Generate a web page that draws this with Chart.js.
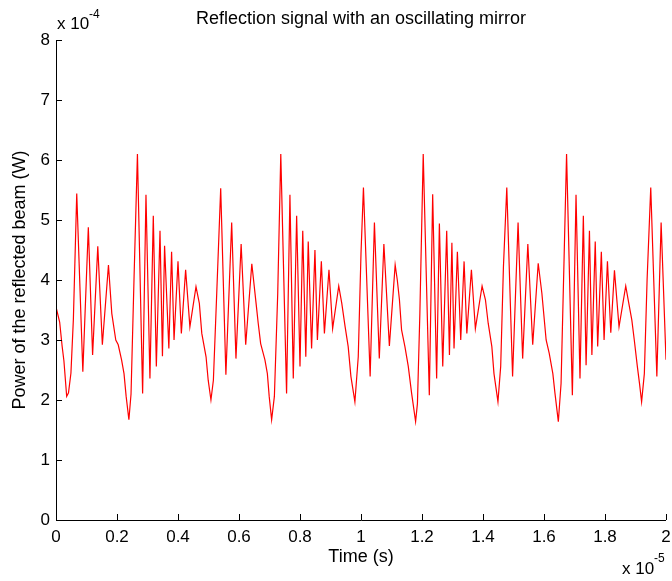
<!DOCTYPE html>
<html lang="en">
<head>
  <meta charset="UTF-8">
  <title>Reflection signal with an oscillating mirror</title>
  <script src="https://cdn.jsdelivr.net/npm/chart.js"></script>
  <style>
    html, body { margin: 0; padding: 0; background: #fff; }
    #wrap { width: 672px; height: 581px; }
  </style>
</head>
<body>
  <div id="wrap"><canvas id="signalChart" width="672" height="581"></canvas></div>

  <script>
    // time in units of 1e-5 s, power in units of 1e-4 W
    const time = [
      0.000, 0.012, 0.020, 0.026, 0.035, 0.041, 0.049, 0.057, 0.068, 0.088,
      0.106, 0.120, 0.137, 0.152, 0.172, 0.183, 0.196, 0.204, 0.215, 0.223,
      0.230, 0.239, 0.246, 0.256, 0.267, 0.284, 0.295, 0.308, 0.319, 0.329,
      0.341, 0.349, 0.356, 0.370, 0.379, 0.387, 0.400, 0.411, 0.425, 0.439,
      0.459, 0.470, 0.478, 0.492, 0.499, 0.508, 0.516, 0.527, 0.540, 0.557,
      0.576, 0.590, 0.607, 0.622, 0.642, 0.656, 0.663, 0.671, 0.685, 0.693,
      0.699, 0.707, 0.716, 0.727, 0.737, 0.756, 0.767, 0.778, 0.789, 0.800,
      0.809, 0.819, 0.827, 0.838, 0.849, 0.857, 0.870, 0.880, 0.895, 0.907,
      0.927, 0.937, 0.948, 0.958, 0.967, 0.980, 0.991, 1.000, 1.008, 1.030,
      1.044, 1.060, 1.075, 1.093, 1.112, 1.119, 1.126, 1.133, 1.144, 1.155,
      1.166, 1.179, 1.185, 1.193, 1.204, 1.224, 1.235, 1.248, 1.257, 1.268,
      1.281, 1.290, 1.298, 1.305, 1.316, 1.327, 1.338, 1.347, 1.362, 1.375,
      1.397, 1.408, 1.417, 1.429, 1.436, 1.449, 1.458, 1.467, 1.478, 1.497,
      1.515, 1.530, 1.547, 1.563, 1.581, 1.593, 1.607, 1.617, 1.629, 1.636,
      1.647, 1.656, 1.666, 1.674, 1.693, 1.705, 1.718, 1.729, 1.738, 1.749,
      1.757, 1.768, 1.776, 1.788, 1.797, 1.808, 1.819, 1.831, 1.846, 1.868,
      1.876, 1.888, 1.896, 1.906, 1.913, 1.920, 1.929, 1.938, 1.950, 1.970,
      1.984, 2.000
    ];
    const power = [
      3.55, 3.30, 2.90, 2.65, 2.06, 2.12, 2.45, 3.35, 5.44, 2.47,
      4.88, 2.75, 4.56, 2.92, 4.25, 3.44, 3.00, 2.92, 2.67, 2.44,
      2.06, 1.67, 2.10, 4.06, 6.10, 2.11, 5.42, 2.36, 5.07, 2.56,
      4.82, 2.73, 4.57, 2.86, 4.47, 3.00, 4.31, 3.11, 4.17, 3.22,
      3.89, 3.61, 3.11, 2.72, 2.33, 2.00, 2.33, 3.78, 5.53, 2.42,
      4.96, 2.69, 4.60, 2.92, 4.27, 3.61, 3.28, 2.94, 2.67, 2.44,
      2.06, 1.67, 2.06, 3.78, 6.10, 2.11, 5.42, 2.36, 5.07, 2.56,
      4.82, 2.72, 4.64, 2.86, 4.50, 3.00, 4.31, 3.11, 4.17, 3.19,
      3.90, 3.61, 3.22, 2.89, 2.39, 1.97, 2.72, 4.44, 5.54, 2.39,
      4.96, 2.69, 4.60, 2.90, 4.25, 4.00, 3.67, 3.17, 2.89, 2.56,
      2.11, 1.64, 1.94, 3.44, 6.10, 2.08, 5.43, 2.36, 4.94, 2.56,
      4.82, 2.75, 4.62, 2.86, 4.47, 3.00, 4.31, 3.11, 4.17, 3.19,
      3.90, 3.67, 3.28, 2.89, 2.44, 1.97, 2.56, 4.22, 5.54, 2.39,
      4.96, 2.69, 4.60, 2.92, 4.28, 3.78, 3.00, 2.78, 2.44, 2.11,
      1.64, 2.28, 4.39, 6.10, 2.08, 5.42, 2.36, 5.07, 2.58, 4.82,
      2.75, 4.64, 2.89, 4.47, 3.00, 4.31, 3.12, 4.16, 3.22, 3.90,
      3.67, 3.33, 3.00, 2.56, 2.28, 1.97, 2.44, 4.00, 5.54, 2.39,
      4.96, 2.67
    ];
    const xTicks = [0, 0.2, 0.4, 0.6, 0.8, 1, 1.2, 1.4, 1.6, 1.8, 2];
    const yTicks = [0, 1, 2, 3, 4, 5, 6, 7, 8];

    const FONT = '"Liberation Sans", Arial, sans-serif';

    // matlab-ish frame: axis lines on left/bottom, ticks pointing inward, labels
    const matlabFrame = {
      id: 'matlabFrame',
      afterDraw(chart) {
        const { ctx, chartArea: a, scales: { x, y } } = chart;
        ctx.save();
        ctx.strokeStyle = '#000';
        ctx.lineWidth = 1;
        ctx.beginPath();
        ctx.moveTo(a.left + 0.5, a.top);
        ctx.lineTo(a.left + 0.5, a.bottom + 0.5);
        ctx.lineTo(a.right, a.bottom + 0.5);
        xTicks.forEach(v => {
          const px = Math.round(x.getPixelForValue(v)) + 0.5;
          ctx.moveTo(px, a.bottom);
          ctx.lineTo(px, a.bottom - 6);
        });
        yTicks.forEach(v => {
          const py = Math.round(y.getPixelForValue(v)) + 0.5;
          ctx.moveTo(a.left, py);
          ctx.lineTo(a.left + 6, py);
        });
        ctx.stroke();

        ctx.fillStyle = '#000';
        ctx.textAlign = 'center';
        ctx.textBaseline = 'alphabetic';
        ctx.font = '18px ' + FONT;
        ctx.fillText('Reflection signal with an oscillating mirror', (a.left + a.right) / 2, 24);
        ctx.fillText('Time (s)', (a.left + a.right) / 2, 562);

        ctx.save();
        ctx.translate(20, (a.top + a.bottom) / 2);
        ctx.rotate(-Math.PI / 2);
        ctx.textBaseline = 'middle';
        ctx.fillText('Power of the reflected beam (W)', 0, 0);
        ctx.restore();

        // exponent labels
        ctx.textAlign = 'left';
        ctx.font = '17px ' + FONT;
        ctx.fillText('x 10', a.left + 1, 29);
        ctx.font = '12px ' + FONT;
        ctx.fillText('-4', a.left + 33, 18);
        ctx.font = '17px ' + FONT;
        ctx.fillText('x 10', 622, 574);
        ctx.font = '12px ' + FONT;
        ctx.fillText('-5', 654, 562);
        ctx.restore();
      }
    };

    const ctx = document.getElementById('signalChart').getContext('2d');
    new Chart(ctx, {
      type: 'line',
      data: {
        datasets: [{
          label: 'Reflected power',
          data: time.map((t, i) => ({ x: t, y: power[i] })),
          borderColor: '#ff0000',
          borderWidth: 1.2,
          pointRadius: 0,
          fill: false,
          tension: 0
        }]
      },
      options: {
        responsive: false,
        animation: false,
        layout: { padding: { top: 40, right: 6, left: 0, bottom: 0 } },
        plugins: {
          legend: { display: false },
          tooltip: { enabled: false }
        },
        scales: {
          x: {
            type: 'linear',
            min: 0,
            max: 2,
            afterBuildTicks: scale => { scale.ticks = xTicks.map(v => ({ value: v })); },
            afterFit: scale => {
              scale.height = 61;
              scale.paddingLeft = 0;
              scale.paddingRight = 0;
            },
            grid: { display: false, drawTicks: false },
            border: { display: false },
            ticks: {
              color: '#000',
              font: { family: FONT, size: 17 },
              padding: 7,
              maxRotation: 0,
              callback: v => String(Number(v.toFixed(1)))
            }
          },
          y: {
            min: 0,
            max: 8,
            afterBuildTicks: scale => { scale.ticks = yTicks.map(v => ({ value: v })); },
            afterFit: scale => { scale.width = 56; },
            grid: { display: false, drawTicks: false },
            border: { display: false },
            ticks: {
              color: '#000',
              font: { family: FONT, size: 17 },
              padding: 6,
              callback: v => String(v)
            }
          }
        }
      },
      plugins: [matlabFrame]
    });
  </script>
</body>
</html>
